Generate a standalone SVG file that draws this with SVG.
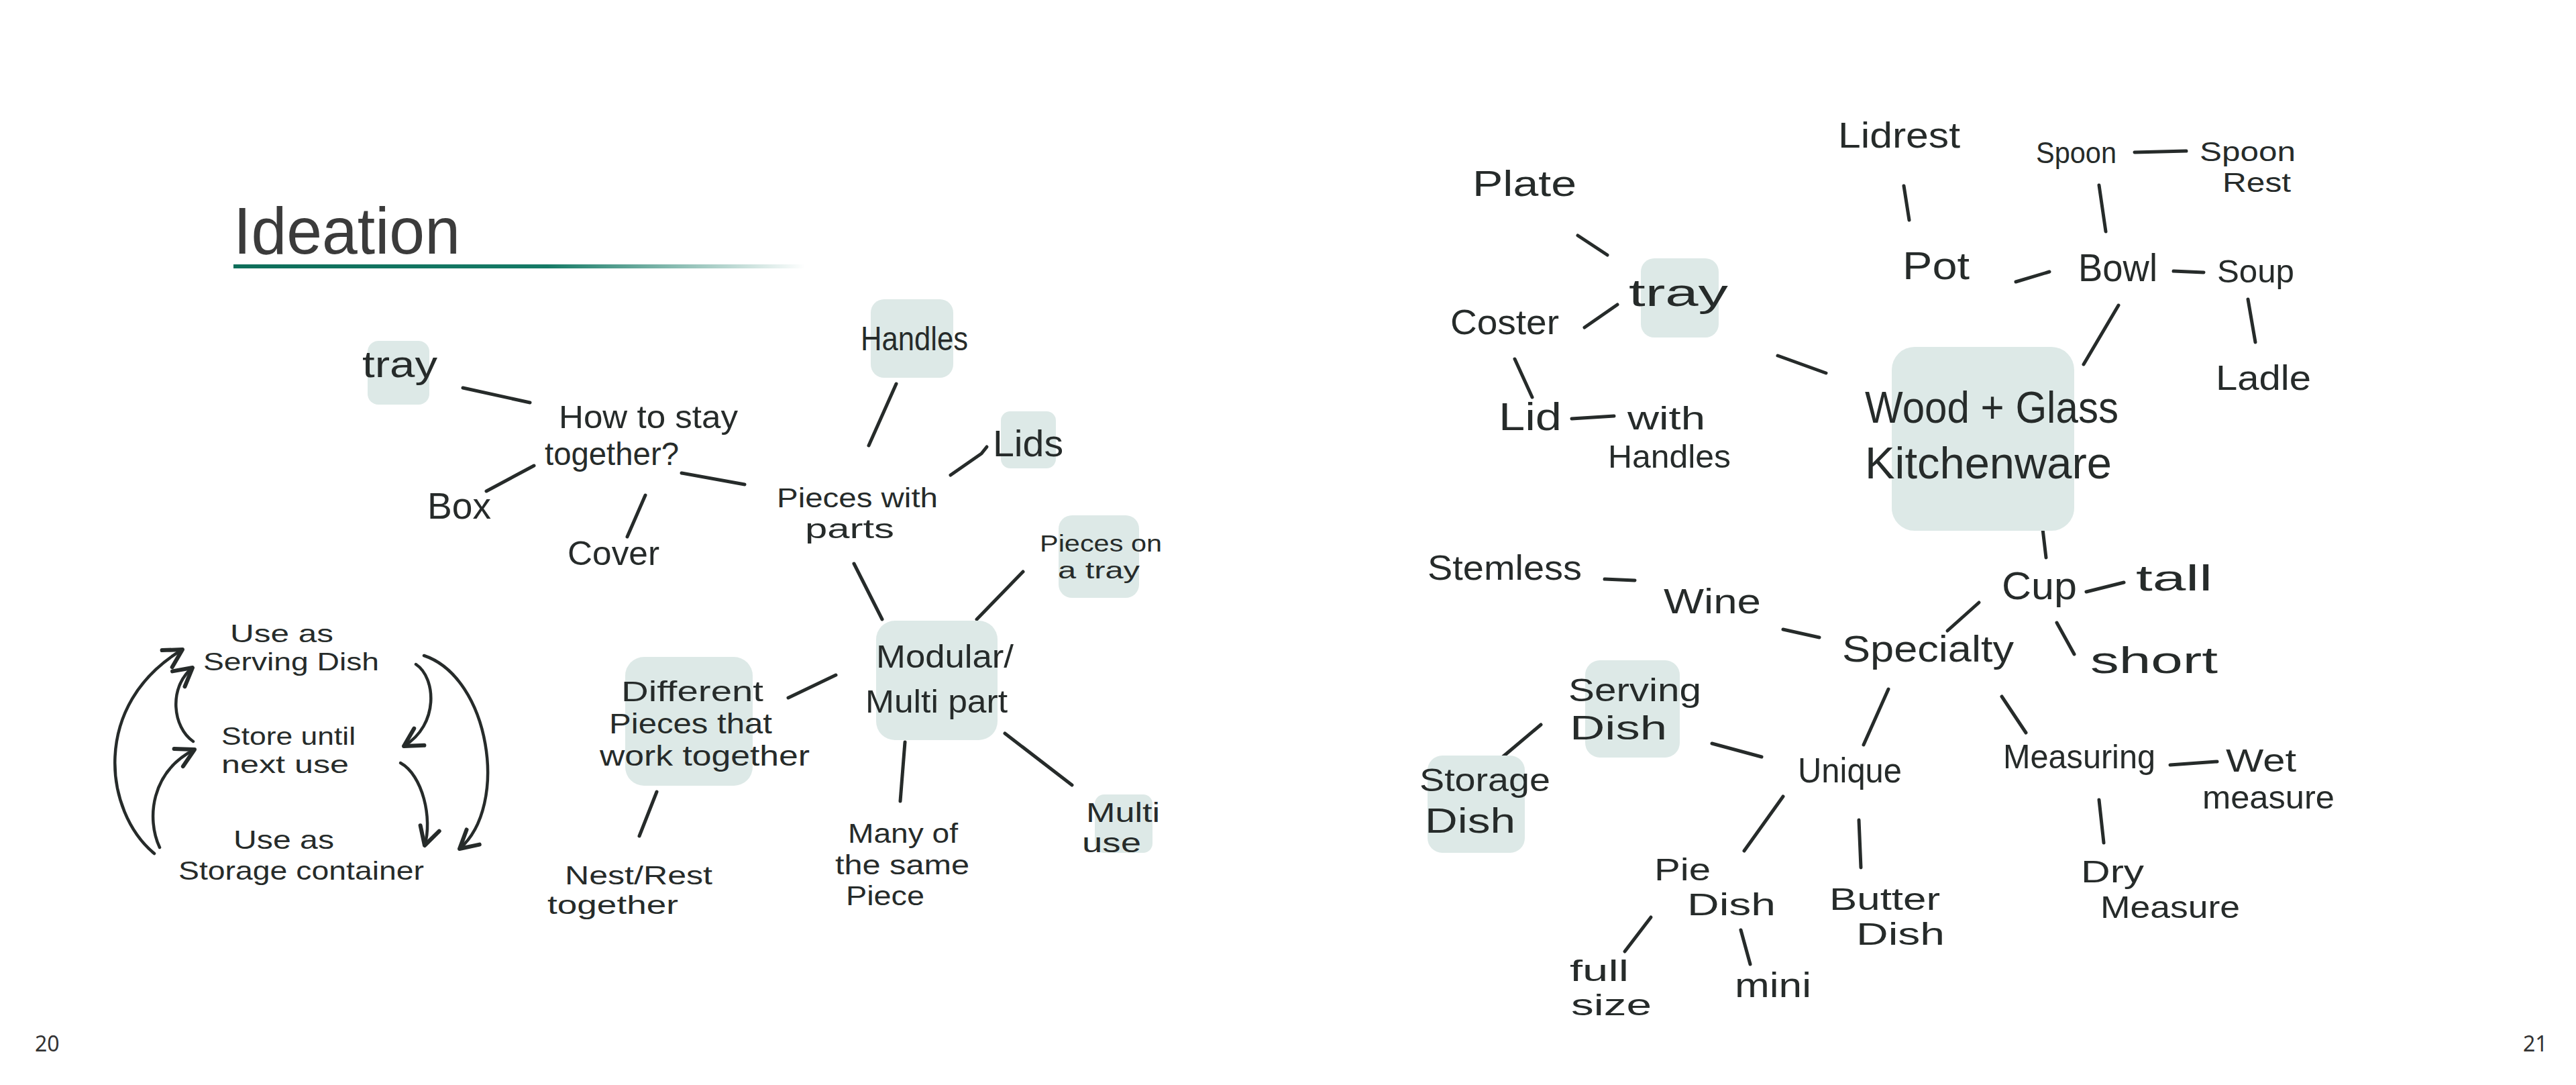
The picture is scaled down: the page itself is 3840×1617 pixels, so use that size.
<svg xmlns="http://www.w3.org/2000/svg" width="3840" height="1617" viewBox="0 0 3840 1617">
<defs>
<style>
.t{font-family:"Liberation Sans","DejaVu Sans",Arial,sans-serif;fill:#262b2a}
.box{fill:#dde9e7}
.c{stroke:#262b2a;stroke-width:5;stroke-linecap:round;stroke-linejoin:round;fill:none}
.a{stroke:#262b2a;stroke-width:4.5;stroke-linecap:round;fill:none;marker-end:url(#ah)}
.pg{font-family:"Noto Sans","Liberation Sans",sans-serif;font-size:32px;fill:#333333}
</style>
<linearGradient id="ul" x1="0" y1="0" x2="1" y2="0">
<stop offset="0" stop-color="#0e6e5a"/>
<stop offset="0.55" stop-color="#157a66"/>
<stop offset="1" stop-color="#157a66" stop-opacity="0"/>
</linearGradient>
<marker id="ah" markerUnits="userSpaceOnUse" markerWidth="40" markerHeight="40" viewBox="-25 -15 30 30" refX="0" refY="0" orient="auto">
<path d="M-20,-11 L0,0 L-20,11" fill="none" stroke="#262b2a" stroke-width="4.5" stroke-linecap="round" stroke-linejoin="round"/>
</marker>
</defs>
<rect width="3840" height="1617" fill="#ffffff"/>

<g id="title">
<text x="348" y="378" font-family="Liberation Sans, Arial, sans-serif" font-size="98" fill="#3b3b3b" textLength="338" lengthAdjust="spacingAndGlyphs">Ideation</text>
<rect x="348" y="394" width="852" height="6" fill="url(#ul)"/>
</g>
<g id="page-numbers">
<text class="pg" x="52" y="1567">20</text>
<text class="pg" x="3761" y="1567">21</text>
</g>

<g id="connectors">
<line class="c" x1="690" y1="578" x2="790" y2="600"/>
<line class="c" x1="725" y1="732" x2="796" y2="694"/>
<line class="c" x1="935" y1="800" x2="962" y2="738"/>
<line class="c" x1="1016" y1="705" x2="1110" y2="722"/>
<line class="c" x1="1336" y1="572" x2="1295" y2="664"/>
<polyline class="c" points="1417,708 1463,676 1471,666"/>
<line class="c" x1="1273" y1="840" x2="1315" y2="923"/>
<line class="c" x1="1525" y1="852" x2="1456" y2="923"/>
<line class="c" x1="1175" y1="1040" x2="1246" y2="1006"/>
<line class="c" x1="979" y1="1180" x2="953" y2="1246"/>
<line class="c" x1="1349" y1="1106" x2="1342" y2="1194"/>
<line class="c" x1="1498" y1="1093" x2="1598" y2="1170"/>
<path class="a" d="M230,1272 C155,1210 135,1050 272,968"/>
<path class="a" d="M288,1105 C258,1085 250,1025 287,995"/>
<path class="a" d="M238,1263 C218,1220 225,1150 290,1117"/>
<path class="a" d="M620,990 C650,1010 655,1080 602,1112"/>
<path class="a" d="M597,1137 C630,1155 645,1220 633,1260"/>
<path class="a" d="M632,977 C730,1010 760,1200 685,1265"/>
<line class="c" x1="2352" y1="351" x2="2396" y2="380"/>
<line class="c" x1="2838" y1="277" x2="2846" y2="328"/>
<line class="c" x1="3182" y1="227" x2="3259" y2="225"/>
<line class="c" x1="3129" y1="276" x2="3139" y2="345"/>
<line class="c" x1="3005" y1="420" x2="3055" y2="405"/>
<line class="c" x1="3240" y1="404" x2="3285" y2="406"/>
<line class="c" x1="3351" y1="446" x2="3362" y2="510"/>
<line class="c" x1="3158" y1="455" x2="3106" y2="543"/>
<line class="c" x1="2362" y1="488" x2="2411" y2="454"/>
<line class="c" x1="2258" y1="535" x2="2284" y2="592"/>
<line class="c" x1="2343" y1="624" x2="2406" y2="620"/>
<line class="c" x1="2650" y1="530" x2="2722" y2="556"/>
<line class="c" x1="3040" y1="746" x2="3050" y2="831"/>
<line class="c" x1="3110" y1="882" x2="3166" y2="868"/>
<line class="c" x1="3066" y1="928" x2="3092" y2="975"/>
<line class="c" x1="2950" y1="898" x2="2903" y2="940"/>
<line class="c" x1="2392" y1="863" x2="2437" y2="865"/>
<line class="c" x1="2658" y1="938" x2="2712" y2="950"/>
<line class="c" x1="2815" y1="1027" x2="2778" y2="1110"/>
<line class="c" x1="2984" y1="1038" x2="3020" y2="1092"/>
<line class="c" x1="2552" y1="1108" x2="2626" y2="1128"/>
<line class="c" x1="2297" y1="1080" x2="2240" y2="1128"/>
<line class="c" x1="3235" y1="1140" x2="3305" y2="1135"/>
<line class="c" x1="3129" y1="1192" x2="3136" y2="1256"/>
<line class="c" x1="2658" y1="1187" x2="2600" y2="1268"/>
<line class="c" x1="2771" y1="1222" x2="2774" y2="1293"/>
<line class="c" x1="2461" y1="1367" x2="2422" y2="1418"/>
<line class="c" x1="2595" y1="1386" x2="2609" y2="1437"/>
</g>

<!-- Left page nodes -->
<g id="n-tray-left">
<rect class="box" x="548" y="508" width="92" height="95" rx="16"/>
<text class="t" x="540" y="562" font-size="56" textLength="112" lengthAdjust="spacingAndGlyphs">tray</text>
</g>
<g id="n-how-to-stay">
<text class="t" x="833" y="638" font-size="48" textLength="267" lengthAdjust="spacingAndGlyphs">How to stay</text>
<text class="t" x="812" y="693" font-size="48" textLength="200" lengthAdjust="spacingAndGlyphs">together?</text>
</g>
<g id="n-box">
<text class="t" x="637" y="773" font-size="56" textLength="95" lengthAdjust="spacingAndGlyphs">Box</text>
</g>
<g id="n-cover">
<text class="t" x="846" y="842" font-size="50" textLength="137" lengthAdjust="spacingAndGlyphs">Cover</text>
</g>
<g id="n-pieces-with-parts">
<text class="t" x="1158" y="756" font-size="40" textLength="240" lengthAdjust="spacingAndGlyphs">Pieces with</text>
<text class="t" x="1200" y="802" font-size="40" textLength="133" lengthAdjust="spacingAndGlyphs">parts</text>
</g>
<g id="n-handles-left">
<rect class="box" x="1298" y="446" width="123" height="117" rx="20"/>
<text class="t" x="1283" y="522" font-size="50" textLength="160" lengthAdjust="spacingAndGlyphs">Handles</text>
</g>
<g id="n-lids">
<rect class="box" x="1492" y="613" width="82" height="85" rx="14"/>
<text class="t" x="1480" y="680" font-size="56" textLength="105" lengthAdjust="spacingAndGlyphs">Lids</text>
</g>
<g id="n-pieces-on-tray">
<rect class="box" x="1578" y="768" width="120" height="123" rx="20"/>
<text class="t" x="1550" y="822" font-size="35" textLength="182" lengthAdjust="spacingAndGlyphs">Pieces on</text>
<text class="t" x="1577" y="862" font-size="35" textLength="122" lengthAdjust="spacingAndGlyphs">a tray</text>
</g>
<g id="n-modular">
<rect class="box" x="1306" y="925" width="181" height="178" rx="28"/>
<text class="t" x="1306" y="995" font-size="48" textLength="205" lengthAdjust="spacingAndGlyphs">Modular/</text>
<text class="t" x="1290" y="1062" font-size="48" textLength="212" lengthAdjust="spacingAndGlyphs">Multi part</text>
</g>
<g id="n-different-pieces">
<rect class="box" x="932" y="979" width="190" height="192" rx="28"/>
<text class="t" x="926" y="1045" font-size="42" textLength="212" lengthAdjust="spacingAndGlyphs">Different</text>
<text class="t" x="908" y="1093" font-size="42" textLength="243" lengthAdjust="spacingAndGlyphs">Pieces that</text>
<text class="t" x="894" y="1141" font-size="42" textLength="313" lengthAdjust="spacingAndGlyphs">work together</text>
</g>
<g id="n-nest-rest">
<text class="t" x="842" y="1318" font-size="39" textLength="220" lengthAdjust="spacingAndGlyphs">Nest/Rest</text>
<text class="t" x="816" y="1362" font-size="39" textLength="195" lengthAdjust="spacingAndGlyphs">together</text>
</g>
<g id="n-many-same">
<text class="t" x="1264" y="1256" font-size="40" textLength="164" lengthAdjust="spacingAndGlyphs">Many of</text>
<text class="t" x="1245" y="1303" font-size="40" textLength="200" lengthAdjust="spacingAndGlyphs">the same</text>
<text class="t" x="1261" y="1349" font-size="40" textLength="117" lengthAdjust="spacingAndGlyphs">Piece</text>
</g>
<g id="n-multi-use">
<rect class="box" x="1632" y="1184" width="86" height="87" rx="14"/>
<text class="t" x="1619" y="1225" font-size="40" textLength="110" lengthAdjust="spacingAndGlyphs">Multi</text>
<text class="t" x="1613" y="1270" font-size="40" textLength="88" lengthAdjust="spacingAndGlyphs">use</text>
</g>
<g id="n-cycle-serving">
<text class="t" x="343" y="957" font-size="37" textLength="154" lengthAdjust="spacingAndGlyphs">Use as</text>
<text class="t" x="303" y="999" font-size="37" textLength="262" lengthAdjust="spacingAndGlyphs">Serving Dish</text>
</g>
<g id="n-cycle-store">
<text class="t" x="330" y="1110" font-size="37" textLength="200" lengthAdjust="spacingAndGlyphs">Store until</text>
<text class="t" x="330" y="1152" font-size="37" textLength="190" lengthAdjust="spacingAndGlyphs">next use</text>
</g>
<g id="n-cycle-storage">
<text class="t" x="348" y="1265" font-size="39" textLength="150" lengthAdjust="spacingAndGlyphs">Use as</text>
<text class="t" x="266" y="1311" font-size="39" textLength="366" lengthAdjust="spacingAndGlyphs">Storage container</text>
</g>

<!-- Right page nodes -->
<g id="n-lidrest">
<text class="t" x="2740" y="220" font-size="54" textLength="182" lengthAdjust="spacingAndGlyphs">Lidrest</text>
</g>
<g id="n-spoon">
<text class="t" x="3035" y="243" font-size="44" textLength="120" lengthAdjust="spacingAndGlyphs">Spoon</text>
</g>
<g id="n-spoon-rest">
<text class="t" x="3279" y="240" font-size="40" textLength="143" lengthAdjust="spacingAndGlyphs">Spoon</text>
<text class="t" x="3313" y="286" font-size="40" textLength="102" lengthAdjust="spacingAndGlyphs">Rest</text>
</g>
<g id="n-plate">
<text class="t" x="2195" y="292" font-size="54" textLength="155" lengthAdjust="spacingAndGlyphs">Plate</text>
</g>
<g id="n-pot">
<text class="t" x="2836" y="416" font-size="58" textLength="100" lengthAdjust="spacingAndGlyphs">Pot</text>
</g>
<g id="n-bowl">
<text class="t" x="3098" y="419" font-size="58" textLength="118" lengthAdjust="spacingAndGlyphs">Bowl</text>
</g>
<g id="n-soup">
<text class="t" x="3305" y="421" font-size="48" textLength="115" lengthAdjust="spacingAndGlyphs">Soup</text>
</g>
<g id="n-ladle">
<text class="t" x="3303" y="581" font-size="52" textLength="142" lengthAdjust="spacingAndGlyphs">Ladle</text>
</g>
<g id="n-tray-right">
<rect class="box" x="2446" y="385" width="116" height="118" rx="20"/>
<text class="t" x="2428" y="456" font-size="58" textLength="148" lengthAdjust="spacingAndGlyphs">tray</text>
</g>
<g id="n-coster">
<text class="t" x="2162" y="498" font-size="52" textLength="162" lengthAdjust="spacingAndGlyphs">Coster</text>
</g>
<g id="n-lid">
<text class="t" x="2234" y="641" font-size="58" textLength="94" lengthAdjust="spacingAndGlyphs">Lid</text>
</g>
<g id="n-with-handles">
<text class="t" x="2426" y="640" font-size="48" textLength="116" lengthAdjust="spacingAndGlyphs">with</text>
<text class="t" x="2397" y="697" font-size="48" textLength="183" lengthAdjust="spacingAndGlyphs">Handles</text>
</g>
<g id="n-wood-glass">
<rect class="box" x="2820" y="517" width="272" height="274" rx="34"/>
<text class="t" x="2780" y="630" font-size="66" textLength="378" lengthAdjust="spacingAndGlyphs">Wood + Glass</text>
<text class="t" x="2780" y="713" font-size="66" textLength="368" lengthAdjust="spacingAndGlyphs">Kitchenware</text>
</g>
<g id="n-cup">
<text class="t" x="2984" y="893" font-size="58" textLength="112" lengthAdjust="spacingAndGlyphs">Cup</text>
</g>
<g id="n-tall">
<text class="t" x="3184" y="880" font-size="54" textLength="114" lengthAdjust="spacingAndGlyphs">tall</text>
</g>
<g id="n-short">
<text class="t" x="3116" y="1003" font-size="56" textLength="190" lengthAdjust="spacingAndGlyphs">short</text>
</g>
<g id="n-specialty">
<text class="t" x="2746" y="986" font-size="56" textLength="256" lengthAdjust="spacingAndGlyphs">Specialty</text>
</g>
<g id="n-stemless">
<text class="t" x="2128" y="864" font-size="52" textLength="230" lengthAdjust="spacingAndGlyphs">Stemless</text>
</g>
<g id="n-wine">
<text class="t" x="2480" y="914" font-size="52" textLength="145" lengthAdjust="spacingAndGlyphs">Wine</text>
</g>
<g id="n-serving-dish">
<rect class="box" x="2363" y="984" width="141" height="145" rx="22"/>
<text class="t" x="2338" y="1045" font-size="48" textLength="198" lengthAdjust="spacingAndGlyphs">Serving</text>
<text class="t" x="2340" y="1102" font-size="50" textLength="145" lengthAdjust="spacingAndGlyphs">Dish</text>
</g>
<g id="n-storage-dish">
<rect class="box" x="2128" y="1126" width="145" height="145" rx="22"/>
<text class="t" x="2116" y="1179" font-size="48" textLength="195" lengthAdjust="spacingAndGlyphs">Storage</text>
<text class="t" x="2124" y="1241" font-size="52" textLength="135" lengthAdjust="spacingAndGlyphs">Dish</text>
</g>
<g id="n-unique">
<text class="t" x="2680" y="1166" font-size="52" textLength="155" lengthAdjust="spacingAndGlyphs">Unique</text>
</g>
<g id="n-measuring">
<text class="t" x="2986" y="1145" font-size="50" textLength="227" lengthAdjust="spacingAndGlyphs">Measuring</text>
</g>
<g id="n-wet-measure">
<text class="t" x="3318" y="1150" font-size="48" textLength="105" lengthAdjust="spacingAndGlyphs">Wet</text>
<text class="t" x="3283" y="1205" font-size="48" textLength="197" lengthAdjust="spacingAndGlyphs">measure</text>
</g>
<g id="n-dry-measure">
<text class="t" x="3102" y="1315" font-size="46" textLength="94" lengthAdjust="spacingAndGlyphs">Dry</text>
<text class="t" x="3131" y="1368" font-size="46" textLength="208" lengthAdjust="spacingAndGlyphs">Measure</text>
</g>
<g id="n-pie-dish">
<text class="t" x="2466" y="1312" font-size="46" textLength="84" lengthAdjust="spacingAndGlyphs">Pie</text>
<text class="t" x="2515" y="1364" font-size="46" textLength="132" lengthAdjust="spacingAndGlyphs">Dish</text>
</g>
<g id="n-butter-dish">
<text class="t" x="2727" y="1356" font-size="46" textLength="165" lengthAdjust="spacingAndGlyphs">Butter</text>
<text class="t" x="2767" y="1408" font-size="46" textLength="132" lengthAdjust="spacingAndGlyphs">Dish</text>
</g>
<g id="n-full-size">
<text class="t" x="2340" y="1462" font-size="45" textLength="88" lengthAdjust="spacingAndGlyphs">full</text>
<text class="t" x="2342" y="1513" font-size="45" textLength="120" lengthAdjust="spacingAndGlyphs">size</text>
</g>
<g id="n-mini">
<text class="t" x="2586" y="1486" font-size="52" textLength="114" lengthAdjust="spacingAndGlyphs">mini</text>
</g>
</svg>
